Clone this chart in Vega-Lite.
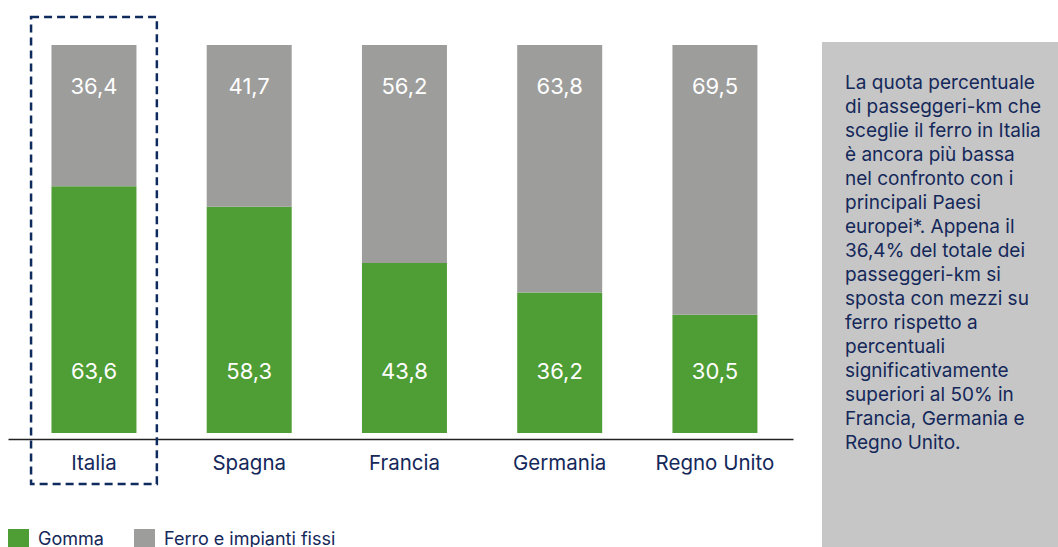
{
  "$schema": "https://vega.github.io/schema/vega-lite/v6.json",
  "background": "white",
  "padding": {"left": 8, "top": 15, "right": 0, "bottom": 0},
  "bounds": "flush",
  "spacing": 29,
  "config": {
    "locale": {"number": {"decimal": ",", "thousands": ".", "grouping": [3], "currency": ["€", ""]}},
    "font": "Inter",
    "view": {"stroke": null}
  },
  "datasets": {
    "quote": [
      {"paese": "Italia", "modo": "Gomma", "quota": 63.6},
      {"paese": "Italia", "modo": "Ferro e impianti fissi", "quota": 36.4},
      {"paese": "Spagna", "modo": "Gomma", "quota": 58.3},
      {"paese": "Spagna", "modo": "Ferro e impianti fissi", "quota": 41.7},
      {"paese": "Francia", "modo": "Gomma", "quota": 43.8},
      {"paese": "Francia", "modo": "Ferro e impianti fissi", "quota": 56.2},
      {"paese": "Germania", "modo": "Gomma", "quota": 36.2},
      {"paese": "Germania", "modo": "Ferro e impianti fissi", "quota": 63.8},
      {"paese": "Regno Unito", "modo": "Gomma", "quota": 30.5},
      {"paese": "Regno Unito", "modo": "Ferro e impianti fissi", "quota": 69.5}
    ],
    "nota": [
      {"riga": 1, "testo": "La quota percentuale"},
      {"riga": 2, "testo": "di passeggeri-km che"},
      {"riga": 3, "testo": "sceglie il ferro in Italia"},
      {"riga": 4, "testo": "è ancora più bassa"},
      {"riga": 5, "testo": "nel confronto con i"},
      {"riga": 6, "testo": "principali Paesi"},
      {"riga": 7, "testo": "europei*. Appena il"},
      {"riga": 8, "testo": "36,4% del totale dei"},
      {"riga": 9, "testo": "passeggeri-km si"},
      {"riga": 10, "testo": "sposta con mezzi su"},
      {"riga": 11, "testo": "ferro rispetto a"},
      {"riga": 12, "testo": "percentuali"},
      {"riga": 13, "testo": "significativamente"},
      {"riga": 14, "testo": "superiori al 50% in"},
      {"riga": 15, "testo": "Francia, Germania e"},
      {"riga": 16, "testo": "Regno Unito."}
    ]
  },
  "hconcat": [
    {
      "width": 785,
      "height": 391,
      "data": {"name": "quote"},
      "layer": [
        {
          "mark": {"type": "bar"},
          "encoding": {
            "x": {
              "field": "paese", "type": "nominal",
              "sort": ["Italia", "Spagna", "Francia", "Germania", "Regno Unito"],
              "scale": {"type": "band", "paddingInner": 0.4525, "paddingOuter": 0.2545, "align": 0.55},
              "axis": {"title": null, "orient": "bottom", "offset": 6, "domainColor": "#222222", "domainWidth": 1.5, "ticks": false, "labelFontSize": 20.5, "labelColor": "#14285a", "labelPadding": 14, "labelAngle": 0, "labelLimit": 300, "grid": false}
            },
            "y": {"field": "quota", "type": "quantitative", "stack": "zero", "scale": {"domain": [0, 100.77], "nice": false, "zero": true}, "axis": null},
            "color": {
              "field": "modo", "type": "nominal",
              "scale": {"domain": ["Gomma", "Ferro e impianti fissi"], "range": ["#4f9d35", "#9d9d9c"]},
              "legend": {"title": null, "orient": "none", "legendX": 0, "legendY": 487, "direction": "horizontal", "symbolType": "square", "symbolSize": 441, "symbolStrokeWidth": 0, "symbolOpacity": 1, "labelFontSize": 18, "labelColor": "#14285a", "labelOffset": 9, "labelLimit": 400, "columnPadding": 30, "padding": 0}
            },
            "order": {"field": "modo", "sort": "descending"}
          }
        },
        {
          "transform": [{"filter": "datum.modo === 'Ferro e impianti fissi'"}],
          "mark": {"type": "text", "color": "white", "fontSize": 22, "baseline": "middle", "align": "center"},
          "encoding": {
            "x": {"field": "paese", "type": "nominal", "sort": ["Italia", "Spagna", "Francia", "Germania", "Regno Unito"]},
            "y": {"datum": 89.17},
            "text": {"field": "quota", "type": "quantitative", "format": ".1f"}
          }
        },
        {
          "transform": [{"filter": "datum.modo === 'Gomma'"}],
          "mark": {"type": "text", "color": "white", "fontSize": 22, "baseline": "middle", "align": "center"},
          "encoding": {
            "x": {"field": "paese", "type": "nominal", "sort": ["Italia", "Spagna", "Francia", "Germania", "Regno Unito"]},
            "y": {"datum": 15.72},
            "text": {"field": "quota", "type": "quantitative", "format": ".1f"}
          }
        },
        {
          "transform": [{"filter": "datum.paese === 'Italia' && datum.modo === 'Gomma'"}],
          "mark": {"type": "bar", "width": {"band": 1.48}, "filled": false, "stroke": "#0f2a5c", "strokeWidth": 2.5, "strokeDash": [8, 5]},
          "encoding": {
            "x": {"field": "paese", "type": "nominal", "sort": ["Italia", "Spagna", "Francia", "Germania", "Regno Unito"]},
            "y": {"datum": 107.21},
            "y2": {"datum": -13.14}
          }
        }
      ]
    },
    {
      "width": 236,
      "height": 506,
      "view": {"fill": "#c6c6c6", "stroke": null},
      "data": {"name": "nota"},
      "mark": {"type": "text", "align": "left", "baseline": "middle", "fontSize": 19, "color": "#14285a"},
      "encoding": {
        "x": {"datum": 0.0975, "type": "quantitative", "scale": {"domain": [0, 1]}, "axis": null},
        "y": {"field": "riga", "type": "quantitative", "scale": {"domain": [-0.708, 20.375], "reverse": true, "nice": false, "zero": false}, "axis": null},
        "text": {"field": "testo"}
      }
    }
  ]
}
